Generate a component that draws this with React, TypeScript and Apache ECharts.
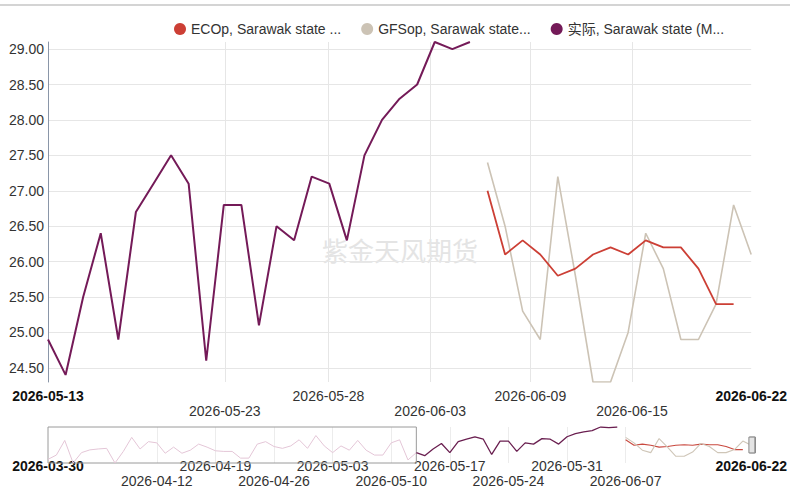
import React, { useEffect, useRef } from 'react';
import * as echarts from 'echarts';

const FONT = '"Liberation Sans", Arial, "Noto Sans CJK SC", sans-serif';

const FULL_START = '2026-03-30';
const FULL_END = '2026-06-22';
const WINDOW_START = '2026-05-13';
const WINDOW_END = '2026-06-22';

const seriesNames = ['ECOp, Sarawak state ...', 'GFSop, Sarawak state...', '实际, Sarawak state (M...'];
const seriesColors = ['#cc3f35', '#ccc3b5', '#741a58'];

// 实际 (daily from 2026-03-30)
const actualStart = '2026-03-30';
const actualValues = [
  23.8, 24.5, 26.9, 23.2, 24.9, 25.35, 25.5, 25.6, 23.2, 25.1,
  27.4, 25.5, 26.7, 26.5, 24.8, 25.8, 24.8, 25.3, 26.3, 25.8,
  25.2, 25.1, 25.1, 24.0, 24.0, 26.3, 26.7, 25.9, 25.6, 26.0,
  27.0, 25.6, 27.7, 26.0, 24.9, 26.0, 25.3, 26.9, 25.3, 24.5,
  24.5, 26.5, 27.0, 23.7,
  24.9, 24.4, 25.5, 26.4, 24.9, 26.7, 27.1, 27.5, 27.1, 24.6,
  26.8, 26.8, 25.1, 26.5, 26.3, 27.2, 27.1, 26.3, 27.5, 28.0,
  28.3, 28.5, 29.1, 29.0, 29.1,
];

// ECOp (daily from 2026-06-07)
const ecopStart = '2026-06-07';
const ecopValues = [27.0, 26.1, 26.3, 26.1, 25.8, 25.9, 26.1, 26.2, 26.1, 26.3, 26.2, 26.2, 25.9, 25.4, 25.4];

// GFSop (daily from 2026-06-07)
const gfsopStart = '2026-06-07';
const gfsopValues = [27.4, 26.5, 25.3, 24.9, 27.2, 25.8, 24.3, 24.3, 25.0, 26.4, 25.9, 24.9, 24.9, 25.4, 26.8, 26.1];

// main axis tick labels and their positions (days after window start)
const mainTickLabels = ['2026-05-13', '2026-05-23', '2026-05-28', '2026-06-03', '2026-06-09', '2026-06-15', '2026-06-22'];
const mainTickOffsets = [0, 10.06, 15.95, 21.74, 27.44, 33.22, 40];

// overview (slider) axis tick labels
const miniTickLabels = [
  '2026-03-30', '2026-04-12', '2026-04-19', '2026-04-26', '2026-05-03', '2026-05-10',
  '2026-05-17', '2026-05-24', '2026-05-31', '2026-06-07', '2026-06-22',
];

const DAY = 86400000;
const dateOf = (s: string, add = 0) => {
  const [y, m, d] = s.split('-').map(Number);
  return new Date(y, m - 1, d + add).getTime();
};
const toSeries = (start: string, vals: number[]) => vals.map((v, i) => [dateOf(start, i), v]);

const nearestIndex = (arr: number[], v: number) => {
  let best = 0;
  for (let i = 1; i < arr.length; i++) if (Math.abs(arr[i] - v) < Math.abs(arr[best] - v)) best = i;
  return best;
};

export default function App() {
  const ref = useRef<HTMLDivElement>(null);

  useEffect(() => {
    document.body.style.margin = '0';
    const chart = echarts.init(ref.current!, undefined, { renderer: 'svg' });

    const mainTickPos = mainTickOffsets.map((o) => dateOf(WINDOW_START) + o * DAY);
    const mainInner = mainTickPos.slice(1, -1);
    const miniTickPos = miniTickLabels.map((s) => dateOf(s));
    const miniInner = miniTickPos.slice(1, -1);

    const actualData = toSeries(actualStart, actualValues);
    const ecopData = toSeries(ecopStart, ecopValues);
    const gfsopData = toSeries(gfsopStart, gfsopValues);
    const windowIdx = actualData.findIndex((d) => d[0] === dateOf(WINDOW_START));

    const richStyles = {
      b: { fontWeight: 'bold', color: '#111', fontSize: 14, fontFamily: FONT },
    };

    const makeFormatter = (pos: number[], labels: string[]) => (value: number) => {
      const i = nearestIndex(pos, value);
      const label = labels[i];
      if (i === 0 || i === labels.length - 1) return `{b|${label}}`;
      return i % 2 === 1 ? `\n${label}` : label;
    };

    const option: any = {
      animation: false,
      textStyle: { fontFamily: FONT },
      legend: {
        left: 169,
        top: 17,
        icon: 'circle',
        itemWidth: 12,
        itemHeight: 12,
        itemGap: 20,
        data: seriesNames,
        textStyle: { fontSize: 14, color: '#333', fontFamily: FONT },
      },
      graphic: [
        {
          type: 'line',
          shape: { x1: 0, y1: 5, x2: 790, y2: 5 },
          style: { stroke: '#d4d4d4', lineWidth: 2 },
          silent: true,
        },
        {
          type: 'text',
          x: 400,
          y: 249,
          z: 0,
          silent: true,
          style: {
            text: '紫金天风期货',
            align: 'center',
            verticalAlign: 'middle',
            font: '26px "Noto Sans CJK SC", sans-serif',
            fill: '#e4e4e4',
          },
        },
      ],
      grid: [
        { left: 48, right: 38, top: 42, height: 340 },
        { left: 48, right: 38, top: 427, height: 36 },
      ],
      xAxis: [
        {
          type: 'value',
          gridIndex: 0,
          max: dateOf(FULL_END),
          axisLine: { show: false },
          axisTick: { show: false, customValues: mainInner },
          splitLine: { show: true, lineStyle: { color: '#e6e6e6', width: 1 } },
          axisLabel: {
            customValues: mainTickPos,
            formatter: makeFormatter(mainTickPos, mainTickLabels),
            fontSize: 14,
            color: '#333',
            margin: 6,
            lineHeight: 15,
            hideOverlap: false,
            rich: richStyles,
          },
        },
        {
          type: 'value',
          gridIndex: 1,
          min: dateOf(FULL_START),
          max: dateOf(FULL_END),
          axisLine: { show: false },
          axisTick: { show: false, customValues: miniInner },
          splitLine: { show: true, lineStyle: { color: '#ececec', width: 1 } },
          axisLabel: {
            customValues: miniTickPos,
            formatter: makeFormatter(miniTickPos, miniTickLabels),
            fontSize: 14,
            color: '#333',
            margin: -5,
            lineHeight: 15,
            hideOverlap: false,
            rich: richStyles,
          },
        },
      ],
      yAxis: [
        {
          type: 'value',
          gridIndex: 0,
          min: 'dataMin',
          max: 'dataMax',
          splitNumber: 10,
          axisLine: { show: true, lineStyle: { color: '#8a96a8', width: 1 } },
          axisTick: { show: false },
          splitLine: { show: true, showMinLine: false, showMaxLine: false, lineStyle: { color: '#e6e6e6' } },
          axisLabel: {
            fontSize: 14,
            color: '#333',
            margin: 4,
            showMinLabel: false,
            showMaxLabel: false,
            formatter: (v: number) => v.toFixed(2),
          },
        },
        {
          type: 'value',
          gridIndex: 1,
          min: 'dataMin',
          max: 'dataMax',
          show: false,
          splitLine: { show: false },
        },
      ],
      dataZoom: [
        {
          type: 'slider',
          xAxisIndex: 0,
          startValue: dateOf(WINDOW_START),
          endValue: dateOf(WINDOW_END),
          left: 48,
          right: 38,
          top: 427,
          height: 36,
          showDataShadow: false,
          showDetail: false,
          brushSelect: false,
          moveHandleSize: 0,
          borderColor: 'rgba(0,0,0,0)',
          backgroundColor: 'rgba(0,0,0,0)',
          fillerColor: 'rgba(0,0,0,0)',
          handleIcon: 'path://M0,0 L6,0 L6,16 L0,16 Z',
          handleSize: '44%',
          handleStyle: { color: '#e4e4e4', borderColor: '#8a8a8a', borderWidth: 1 },
          emphasis: { handleStyle: { color: '#e4e4e4', borderColor: '#8a8a8a' } },
        },
      ],
      series: [
        {
          name: seriesNames[0],
          type: 'line',
          xAxisIndex: 0,
          yAxisIndex: 0,
          data: ecopData,
          color: seriesColors[0],
          showSymbol: false,
          lineStyle: { width: 1.8, color: seriesColors[0] },
          z: 3,
        },
        {
          name: seriesNames[1],
          type: 'line',
          xAxisIndex: 0,
          yAxisIndex: 0,
          data: gfsopData,
          color: seriesColors[1],
          showSymbol: false,
          lineStyle: { width: 1.6, color: seriesColors[1] },
          z: 2,
        },
        {
          name: seriesNames[2],
          type: 'line',
          xAxisIndex: 0,
          yAxisIndex: 0,
          data: actualData,
          color: seriesColors[2],
          showSymbol: false,
          lineStyle: { width: 2, color: seriesColors[2] },
          z: 3,
        },
        {
          name: seriesNames[2],
          type: 'line',
          xAxisIndex: 1,
          yAxisIndex: 1,
          data: actualData.slice(0, windowIdx + 1),
          color: seriesColors[2],
          showSymbol: false,
          silent: true,
          lineStyle: { width: 1, color: '#e4c6d7' },
          markArea: {
            silent: true,
            itemStyle: { color: 'rgba(0,0,0,0)', borderColor: '#9a9a9a', borderWidth: 1 },
            data: [[{ xAxis: dateOf(FULL_START) }, { xAxis: dateOf(WINDOW_START) }]],
          },
        },
        {
          name: seriesNames[2],
          type: 'line',
          xAxisIndex: 1,
          yAxisIndex: 1,
          data: actualData.slice(windowIdx),
          color: seriesColors[2],
          showSymbol: false,
          silent: true,
          lineStyle: { width: 1.3, color: '#6a1f50' },
        },
        {
          name: seriesNames[0],
          type: 'line',
          xAxisIndex: 1,
          yAxisIndex: 1,
          data: ecopData,
          color: seriesColors[0],
          showSymbol: false,
          silent: true,
          lineStyle: { width: 1.1, color: '#c9493f' },
        },
        {
          name: seriesNames[1],
          type: 'line',
          xAxisIndex: 1,
          yAxisIndex: 1,
          data: gfsopData,
          color: seriesColors[1],
          showSymbol: false,
          silent: true,
          lineStyle: { width: 1.1, color: '#cfc6b8' },
        },
      ],
    };

    chart.setOption(option);
    return () => chart.dispose();
  }, []);

  return <div ref={ref} style={{ width: 790, height: 494 }} />;
}
